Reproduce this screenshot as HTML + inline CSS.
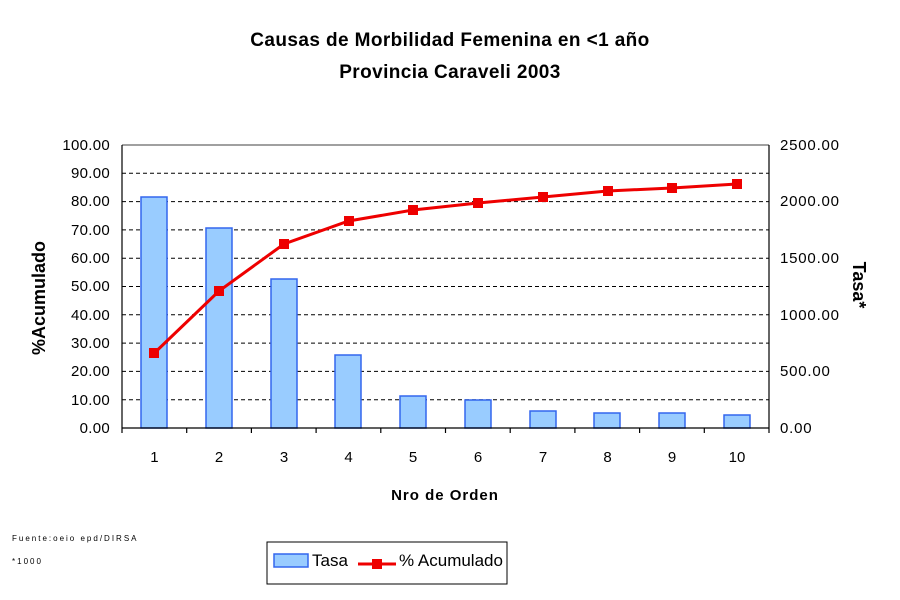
<!DOCTYPE html>
<html><head><meta charset="utf-8"><style>body{margin:0;background:#fff}svg{display:block}text{font-family:"Liberation Sans",Arial,sans-serif}</style></head>
<body>
<svg width="900" height="600" viewBox="0 0 900 600">
<rect width="900" height="600" fill="#fff"/>
<text x="450" y="46" font-size="19" font-weight="bold" text-anchor="middle" letter-spacing="0.4">Causas de Morbilidad Femenina en &lt;1 año</text>
<text x="450" y="78" font-size="19" font-weight="bold" text-anchor="middle" letter-spacing="0.4">Provincia Caraveli 2003</text>
<g stroke="#000" stroke-dasharray="4,3" stroke-width="1">
<line x1="122" x2="769" y1="173.3" y2="173.3"/><line x1="122" x2="769" y1="201.6" y2="201.6"/>
<line x1="122" x2="769" y1="229.9" y2="229.9"/><line x1="122" x2="769" y1="258.2" y2="258.2"/>
<line x1="122" x2="769" y1="286.5" y2="286.5"/><line x1="122" x2="769" y1="314.8" y2="314.8"/>
<line x1="122" x2="769" y1="343.1" y2="343.1"/><line x1="122" x2="769" y1="371.4" y2="371.4"/>
<line x1="122" x2="769" y1="399.7" y2="399.7"/>
</g>
<line x1="122" y1="145" x2="769" y2="145" stroke="#808080" stroke-width="1.5"/>
<g fill="#99ccff" stroke="#3366ee" stroke-width="1.5">
<rect x="141" y="197" width="26" height="231"/>
<rect x="206" y="228" width="26" height="200"/>
<rect x="271" y="279" width="26" height="149"/>
<rect x="335" y="355" width="26" height="73"/>
<rect x="400" y="396" width="26" height="32"/>
<rect x="465" y="400" width="26" height="28"/>
<rect x="530" y="411" width="26" height="17"/>
<rect x="594" y="413" width="26" height="15"/>
<rect x="659" y="413" width="26" height="15"/>
<rect x="724" y="415" width="26" height="13"/>
</g>
<g stroke="#000" stroke-width="1.2">
<line x1="122" y1="145" x2="122" y2="428"/><line x1="769" y1="145" x2="769" y2="428"/>
<line x1="122" y1="428" x2="769" y2="428"/>
<line x1="122" y1="428" x2="122" y2="433"/><line x1="186.7" y1="428" x2="186.7" y2="433"/><line x1="251.4" y1="428" x2="251.4" y2="433"/><line x1="316.1" y1="428" x2="316.1" y2="433"/><line x1="380.8" y1="428" x2="380.8" y2="433"/><line x1="445.5" y1="428" x2="445.5" y2="433"/><line x1="510.2" y1="428" x2="510.2" y2="433"/><line x1="574.9" y1="428" x2="574.9" y2="433"/><line x1="639.6" y1="428" x2="639.6" y2="433"/><line x1="704.3" y1="428" x2="704.3" y2="433"/><line x1="769" y1="428" x2="769" y2="433"/>
</g>
<polyline fill="none" stroke="#ee0000" stroke-width="3" points="154.4,353 219,291 284,244 348.6,221 413,210 478,203 543,197 607.6,191 672,188 737,184"/>
<g fill="#ee0000">
<rect x="149" y="348" width="10" height="10"/><rect x="214" y="286" width="10" height="10"/><rect x="279" y="239" width="10" height="10"/><rect x="344" y="216" width="10" height="10"/><rect x="408" y="205" width="10" height="10"/><rect x="473" y="198" width="10" height="10"/><rect x="538" y="192" width="10" height="10"/><rect x="603" y="186" width="10" height="10"/><rect x="667" y="183" width="10" height="10"/><rect x="732" y="179" width="10" height="10"/>
</g>
<g font-size="15" text-anchor="end" letter-spacing="0.3">
<text x="110" y="150">100.00</text><text x="110" y="178">90.00</text><text x="110" y="206">80.00</text><text x="110" y="235">70.00</text><text x="110" y="263">60.00</text><text x="110" y="291">50.00</text><text x="110" y="320">40.00</text><text x="110" y="348">30.00</text><text x="110" y="376">20.00</text><text x="110" y="405">10.00</text><text x="110" y="433">0.00</text>
</g>
<g font-size="15" letter-spacing="0.8">
<text x="780" y="150">2500.00</text><text x="780" y="206">2000.00</text><text x="780" y="263">1500.00</text><text x="780" y="320">1000.00</text><text x="780" y="376">500.00</text><text x="780" y="433">0.00</text>
</g>
<g font-size="15" text-anchor="middle">
<text x="154.4" y="462">1</text><text x="219" y="462">2</text><text x="284" y="462">3</text><text x="348.6" y="462">4</text><text x="413" y="462">5</text><text x="478" y="462">6</text><text x="543" y="462">7</text><text x="607.6" y="462">8</text><text x="672" y="462">9</text><text x="737" y="462">10</text>
</g>
<text x="445" y="500" font-size="15" font-weight="bold" text-anchor="middle" letter-spacing="1">Nro de Orden</text>
<text transform="translate(45,298) rotate(-90)" font-size="18" font-weight="bold" text-anchor="middle">%Acumulado</text>
<text transform="translate(853,285) rotate(90)" font-size="18" font-weight="bold" text-anchor="middle">Tasa*</text>
<text x="12" y="541" font-size="8" letter-spacing="2">Fuente:oeio epd/DIRSA</text>
<text x="12" y="564" font-size="8" letter-spacing="2">*1000</text>
<rect x="267" y="542" width="240" height="42" fill="#fff" stroke="#000"/>
<rect x="274" y="554" width="34" height="13" fill="#99ccff" stroke="#3366ee" stroke-width="1.5"/>
<text x="312" y="566" font-size="17">Tasa</text>
<line x1="358" y1="564" x2="396" y2="564" stroke="#ee0000" stroke-width="3"/>
<rect x="372" y="559" width="10" height="10" fill="#ee0000"/>
<text x="399" y="566" font-size="17">% Acumulado</text>
</svg>
</body></html>
